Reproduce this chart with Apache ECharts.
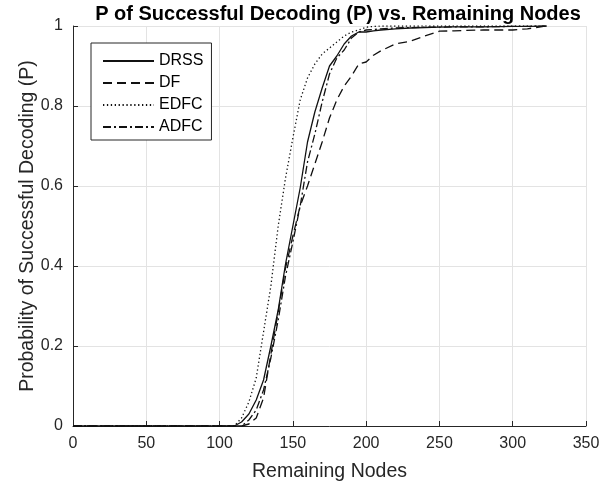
<!DOCTYPE html>
<html>
<head>
<meta charset="utf-8">
<script src="https://cdn.jsdelivr.net/npm/echarts@6/dist/echarts.min.js"></script>
<style>
  html, body { margin: 0; padding: 0; background: #fff; }
  #chart { width: 616px; height: 487px; }
</style>
</head>
<body>
<div id="chart"></div>
<script>
// remaining nodes (x) shared by every curve
const nodes = [0, 110, 115, 120, 125, 130, 135, 140, 145, 150, 155, 160, 165, 170, 175, 180, 185, 190, 195, 200, 205, 210, 220, 230, 240, 250, 260, 280, 300, 310, 323]

const drss = [0, 0, 0.01, 0.03, 0.065, 0.115, 0.2, 0.29, 0.405, 0.5, 0.595, 0.71, 0.785, 0.845, 0.9, 0.925, 0.955, 0.975, 0.985, 0.985, 0.988, 0.99, 0.993, 0.995, 0.996, 0.997, 0.998, 0.998, 0.999, 0.999, 1]
const df = [0, 0, 0, 0.005, 0.02, 0.07, 0.18, 0.285, 0.395, 0.475, 0.55, 0.6, 0.655, 0.71, 0.77, 0.815, 0.85, 0.875, 0.905, 0.91, 0.927, 0.938, 0.955, 0.962, 0.975, 0.987, 0.988, 0.99, 0.99, 0.993, 1]
const edfc = [0, 0, 0.02, 0.06, 0.12, 0.235, 0.35, 0.5, 0.62, 0.72, 0.815, 0.87, 0.905, 0.93, 0.945, 0.96, 0.975, 0.985, 0.99, 0.997, 0.999, 1, 1, 1, 1, 1, 1, 1, 1, 1, 1]
const adfc = [0, 0, 0, 0.015, 0.04, 0.09, 0.17, 0.265, 0.375, 0.46, 0.55, 0.66, 0.73, 0.81, 0.88, 0.92, 0.94, 0.97, 0.985, 0.99, 0.991, 0.993, 0.995, 0.996, 0.997, 0.997, 0.998, 0.998, 0.999, 0.999, 1]

const xTicks = [0, 50, 100, 150, 200, 250, 300, 350]
const yTicks = [0, 0.2, 0.4, 0.6, 0.8, 1]

const font = 'Liberation Sans, Arial, Helvetica, sans-serif'
const ink = '#262626'

const pairs = ys => nodes.map((x, i) => [x, ys[i]])

const makeLine = (name, ys, dash) => ({
  name,
  type: 'line',
  data: pairs(ys),
  symbol: 'none',
  animation: false,
  lineStyle: { color: '#111', width: 1.3, type: dash },
  itemStyle: { color: '#111' }
})

const axisCommon = {
  axisLine: { show: true, lineStyle: { color: ink, width: 1 } },
  axisTick: { show: true, inside: true, length: 5, lineStyle: { color: ink } },
  splitLine: { show: true, lineStyle: { color: '#e3e3e3', width: 1 } },
  axisLabel: { color: ink, fontSize: 16, fontFamily: font, margin: 10 },
  nameLocation: 'middle',
  nameMoveOverlap: false,
  nameTextStyle: { color: ink, fontSize: 19.5, fontFamily: font }
}

const option = {
  backgroundColor: '#fff',
  title: {
    text: 'P of Successful Decoding (P) vs. Remaining Nodes',
    left: 333,
    textAlign: 'center',
    top: -1,
    textStyle: { color: '#000', fontSize: 20, fontWeight: 'bold', fontFamily: font }
  },
  grid: { left: 73, right: 30, top: 26, bottom: 61 },
  legend: {
    orient: 'vertical',
    left: 91,
    top: 43,
    padding: [10, 8, 5, 11],
    itemWidth: 51,
    itemHeight: 14,
    itemGap: 6,
    borderColor: ink,
    borderWidth: 1,
    backgroundColor: '#fff',
    // hide the marker circle, keep only the dashed line sample
    itemStyle: { color: 'rgba(0,0,0,0)', borderColor: 'rgba(0,0,0,0)', borderWidth: 0, opacity: 0 },
    textStyle: { color: '#000', fontSize: 16, fontFamily: font },
    data: ['DRSS', 'DF', 'EDFC', 'ADFC']
  },
  xAxis: Object.assign({}, axisCommon, {
    type: 'value',
    min: xTicks[0],
    max: xTicks[xTicks.length - 1],
    interval: 50,
    name: 'Remaining Nodes',
    nameGap: 36
  }),
  yAxis: Object.assign({}, axisCommon, {
    type: 'value',
    min: yTicks[0],
    max: yTicks[yTicks.length - 1],
    interval: 0.2,
    name: 'Probability of Successful Decoding (P)',
    nameGap: 35,
    axisLabel: Object.assign({}, axisCommon.axisLabel, {
      formatter: v => (v === 0 || v === 1) ? String(v) : v.toFixed(1)
    })
  }),
  series: [
    makeLine('DRSS', drss, 'solid'),
    makeLine('DF', df, [9, 5]),
    makeLine('EDFC', edfc, [1.3, 2.6]),
    makeLine('ADFC', adfc, [8, 3, 2, 3])
  ]
}

const myChart = echarts.init(document.getElementById('chart'), null, { renderer: 'canvas' })
myChart.setOption(option)
</script>
</body>
</html>
